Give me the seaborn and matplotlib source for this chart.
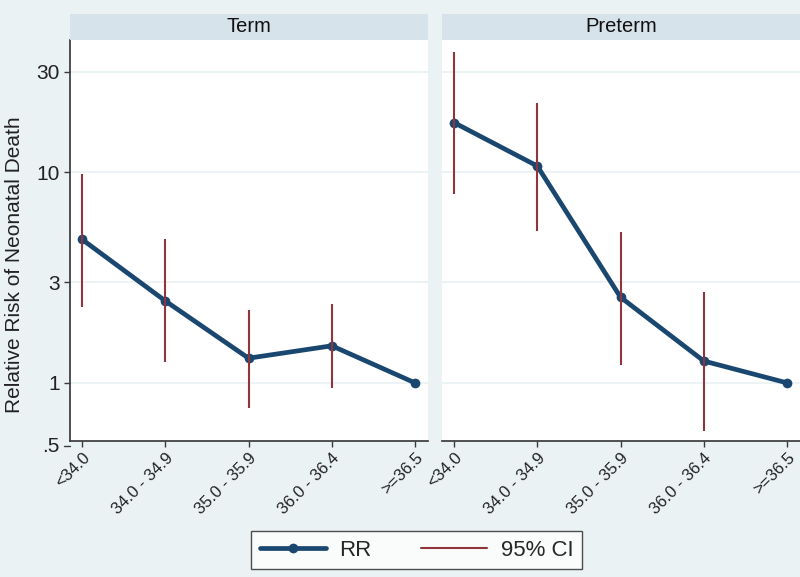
import numpy as np
import pandas as pd
import matplotlib
matplotlib.use("Agg")
import matplotlib.pyplot as plt
import matplotlib.transforms as mtransforms
from matplotlib.lines import Line2D
from matplotlib.ticker import NullLocator
import seaborn as sns

# data
categories = ["<34.0", "34.0 - 34.9", "35.0 - 35.9", "36.0 - 36.4", ">=36.5"]
panels = ["Term", "Preterm"]
term_rr = [4.8, 2.45, 1.31, 1.5, 1.0]
term_lo = [2.3, 1.26, 0.76, 0.95, np.nan]
term_hi = [9.8, 4.8, 2.22, 2.37, np.nan]
preterm_rr = [17.2, 10.7, 2.55, 1.27, 1.0]
preterm_lo = [7.85, 5.25, 1.22, 0.59, np.nan]
preterm_hi = [37.3, 21.4, 5.19, 2.7, np.nan]
yticks = [1, 3, 10, 30]
ytick_labels = ["1", "3", "10", "30"]
ybottom_label = 0.5

sns.set_theme(style="white")
plt.rcParams["font.family"] = ["Liberation Sans", "DejaVu Sans"]

bg = "#EAF2F3"
strip_col = "#D6E3EA"
navy = "#1A476F"
maroon = "#90353B"
spine_col = "#3A3A3A"

rows = []
for name, rr, lo, hi in [("Term", term_rr, term_lo, term_hi),
                         ("Preterm", preterm_rr, preterm_lo, preterm_hi)]:
    for i, cat in enumerate(categories):
        rows.append({"group": name, "pos": i, "cat": cat,
                     "rr": rr[i], "lo": lo[i], "hi": hi[i]})
df = pd.DataFrame(rows)

fig = plt.figure(figsize=(8.0, 5.77), dpi=100, facecolor=bg)

W, H = 800.0, 577.0
plot_top, plot_bot = 40, 441
lefts = [70, 442]
width = 358

axes = []
for k, name in enumerate(panels):
    ax = fig.add_axes([lefts[k] / W, 1 - plot_bot / H, width / W,
                       (plot_bot - plot_top) / H],
                      sharey=axes[0] if axes else None)
    ax.set_facecolor("white")
    ax.set_yscale("log")
    sub = df[df["group"] == name]
    sns.lineplot(data=sub, x="pos", y="rr", ax=ax, color=navy, lw=3.4,
                 marker="o", markersize=7, markeredgewidth=0,
                 legend=False, sort=False, zorder=2)
    ci = sub.dropna()
    ax.vlines(ci["pos"], ci["lo"], ci["hi"], color=maroon, lw=1.5, zorder=3)

    ax.set_xlim(-0.144, 4.155)
    ax.set_ylim(0.53, 42.4)
    ax.set_yticks(yticks)
    ax.set_yticklabels(ytick_labels)
    ax.yaxis.set_minor_locator(NullLocator())
    ax.set_xticks(range(len(categories)))
    ax.set_xticklabels(categories, rotation=45, ha="right",
                       rotation_mode="anchor", fontsize=12, color="#222222")
    ax.yaxis.grid(True, color=bg, lw=1.3)
    ax.set_axisbelow(True)
    ax.set_xlabel("")
    ax.set_ylabel("")
    for s in ["top", "right"]:
        ax.spines[s].set_visible(False)
    ax.spines["bottom"].set_color(spine_col)
    ax.spines["left"].set_color(spine_col)
    ax.tick_params(axis="x", bottom=True, length=4.5, width=1,
                   color=spine_col, pad=2)
    ax.tick_params(axis="y", left=True, length=4.5, width=1,
                   color=spine_col, pad=3, labelsize=15, labelcolor="#222222")

    # strip header
    sax = fig.add_axes([lefts[k] / W, 1 - plot_top / H, width / W, 26 / H])
    sax.set_facecolor(strip_col)
    sax.set_xticks([])
    sax.set_yticks([])
    for s in sax.spines.values():
        s.set_visible(False)
    sax.text(0.5, 0.5, name, ha="center", va="center", fontsize=14.5,
             color="#111111", transform=sax.transAxes)
    axes.append(ax)

ax1, ax2 = axes
ax2.spines["left"].set_visible(False)
ax2.tick_params(axis="y", left=False, labelleft=False)

# .5 label sits just below the plot region, as in the reference
trans = mtransforms.blended_transform_factory(ax1.transAxes, ax1.transData)
ax1.plot([-6 / width, 0], [ybottom_label, ybottom_label], transform=trans,
         color=spine_col, lw=1, clip_on=False)
ax1.text(-10 / width, ybottom_label, ".5", transform=trans, ha="right",
         va="center", fontsize=15, color="#222222")

fig.text(15 / W, 1 - 265 / H, "Relative Risk of Neonatal Death",
         rotation=90, ha="center", va="center", fontsize=15,
         color="#222222")

handles = [Line2D([], [], color=navy, lw=3.4, marker="o", markersize=7,
                  markeredgewidth=0),
           Line2D([], [], color=maroon, lw=1.5)]
leg = fig.legend(handles, ["RR", "95% CI"], loc="center",
                 bbox_to_anchor=(416.5 / W, 1 - 550 / H), ncol=2,
                 frameon=True, fancybox=False, fontsize=16,
                 handlelength=3.0, columnspacing=2.2, borderpad=0.4,
                 handletextpad=0.6)
leg.get_frame().set_edgecolor("#222222")
leg.get_frame().set_linewidth(1)

fig.savefig("out.png", dpi=100, facecolor=bg)
